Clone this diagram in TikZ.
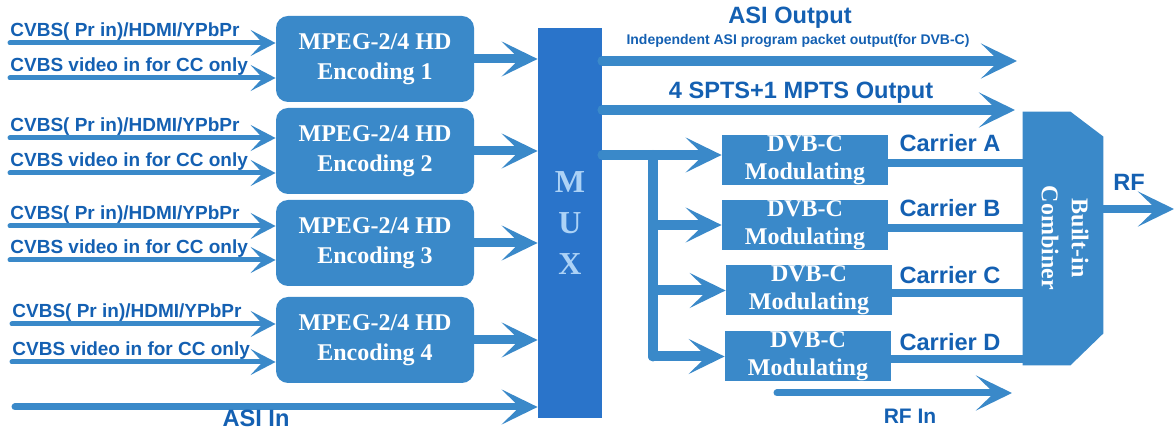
\documentclass[tikz,border=0pt]{standalone}
\usepackage{fontspec}
\setmainfont{Liberation Serif}
\setsansfont{Liberation Sans}
\usetikzlibrary{arrows.meta}
\definecolor{boxblue}{RGB}{58,137,201}
\definecolor{muxblue}{RGB}{42,116,202}
\definecolor{txtblue}{RGB}{20,96,178}
\definecolor{muxtxt}{RGB}{172,210,246}
\tikzset{
  encbox/.style={fill=boxblue, rounded corners=6pt, minimum width=99pt, minimum height=43pt,
    text=white, font=\bfseries\fontsize{12}{15}\selectfont, align=center},
  modbox/.style={fill=boxblue, minimum width=83pt, minimum height=25pt, inner sep=0pt,
    text=white, font=\bfseries\fontsize{12}{14}\selectfont, align=center},
  lbl/.style={text=txtblue, font=\sffamily\bfseries\fontsize{9.5}{11}\selectfont, inner sep=0pt},
  biglbl/.style={text=txtblue, font=\sffamily\bfseries\fontsize{11.8}{14}\selectfont, inner sep=0pt},
  inarrow/.style={draw=boxblue, line width=2.5pt, line cap=round,
    -{Stealth[length=12.5pt, width=13pt, inset=6pt]}},
  bigarrow/.style={draw=boxblue, line width=5pt, line cap=round,
    -{Stealth[length=18pt, width=17.5pt, inset=9pt]}},
  wire/.style={draw=boxblue, line width=4pt, line cap=round}
}
\begin{document}
\begin{tikzpicture}[x=0.5pt, y=-0.5pt]
\useasboundingbox (0,0) rectangle (1174,432);
% encoders
\node[encbox] (enc1) at (375,59) {MPEG-2/4 HD\\Encoding 1};
\node[encbox] (enc2) at (375,151) {MPEG-2/4 HD\\Encoding 2};
\node[encbox] (enc3) at (375,243) {MPEG-2/4 HD\\Encoding 3};
\node[encbox] (enc4) at (375,340) {MPEG-2/4 HD\\Encoding 4};
% inputs
\coordinate (i1a) at (10,43);  \coordinate (i1b) at (10,78);
\coordinate (i2a) at (10,138); \coordinate (i2b) at (10,173);
\coordinate (i3a) at (10,226); \coordinate (i3b) at (10,260);
\coordinate (i4a) at (12,324); \coordinate (i4b) at (12,362);
\foreach \e/\a/\b in {enc1/i1a/i1b, enc2/i2a/i2b, enc3/i3a/i3b, enc4/i4a/i4b} {
  \draw[inarrow] (\a) -- (\e.west |- \a);
  \draw[inarrow] (\b) -- (\e.west |- \b);
  \node[lbl, anchor=base west] (\a-t) at ([yshift=3pt]\a) {CVBS( Pr in)/HDMI/YPbPr};
  \node[lbl, anchor=base west] (\b-t) at ([yshift=3pt]\b) {CVBS video in for CC only};
}
% mux
\node[fill=muxblue, minimum width=32pt, minimum height=195pt, inner sep=0pt, text=muxtxt,
  font=\bfseries\fontsize{16}{20.5}\selectfont, align=center] (mux) at (570,223) {M\\U\\X};
\foreach \e in {enc1,enc2,enc3,enc4}
  \draw[bigarrow, line width=4.5pt] (\e.east) -- (mux.west |- \e.east);
\coordinate (asiin) at (15,407);
\draw[bigarrow, line width=3.5pt] (asiin) -- (mux.west |- asiin);
\node[biglbl] (asiinlbl) at (256,418) {ASI In};
% outputs
\coordinate (asio) at (1017,61);
\draw[bigarrow] (mux.east |- asio) -- (asio);
\node[biglbl] (asiolbl) at (790,18) {ASI Output};
\node[lbl, font=\sffamily\bfseries\fontsize{7}{8}\selectfont] (asiosub) at (798,41)
  {Independent ASI program packet output(for DVB-C)};
\coordinate (spts) at (1015,110);
\draw[bigarrow] (mux.east |- spts) -- (spts);
\node[biglbl] (sptslbl) at (801,93) {4 SPTS+1 MPTS Output};
% modulators
\node[modbox] (mod1) at (805,160) {DVB-C\\Modulating};
\node[modbox] (mod2) at (805,225) {DVB-C\\Modulating};
\node[modbox] (mod3) at (809,290.5) {DVB-C\\Modulating};
\node[modbox] (mod4) at (808,356.5) {DVB-C\\Modulating};
\coordinate (split) at (653,155);
\draw[bigarrow] (mux.east |- split) -- (mod1.west |- split);
\draw[wire, line width=5pt] (split) -- (split |- mod4.west);
\foreach \m in {mod2,mod3,mod4}
  \draw[bigarrow] (split |- \m.west) -- (\m.west);
% combiner
\node[minimum width=40pt, minimum height=126.5pt, inner sep=0pt] (comb) at (1063,238.5) {};
\fill[boxblue] (comb.north west) -- ([xshift=-16.5pt]comb.north east)
  -- ([yshift=-12.5pt]comb.north east) -- ([yshift=16pt]comb.south east)
  -- ([xshift=-16.5pt]comb.south east) -- (comb.south west) -- cycle;
\node[rotate=-90, text=white, font=\bfseries\fontsize{12}{15}\selectfont, align=center]
  (combtxt) at (1065,238) {Built-in\\Combiner};
\foreach \m/\c/\y in {mod1/A/143, mod2/B/208, mod3/C/275, mod4/D/342} {
  \coordinate (\m-o) at ([yshift=-1.5pt]\m.east);
  \draw[wire] (\m-o) -- (comb.west |- \m-o);
  \node[biglbl] (car\c) at (950,\y) {Carrier \c};
}
\coordinate (rfo) at (1174,209);
\draw[bigarrow, line width=4pt] (comb.east |- rfo) -- (rfo);
\node[biglbl] (rflbl) at (1129,182) {RF};
\coordinate (rfa) at (777,393);
\coordinate (rfb) at (1012,393);
\draw[bigarrow, line width=3.5pt] (rfa) -- (rfb);
\node[biglbl, font=\sffamily\bfseries\fontsize{10.5}{12}\selectfont] (rfinlbl) at (910,416) {RF In};
\end{tikzpicture}
\end{document}
